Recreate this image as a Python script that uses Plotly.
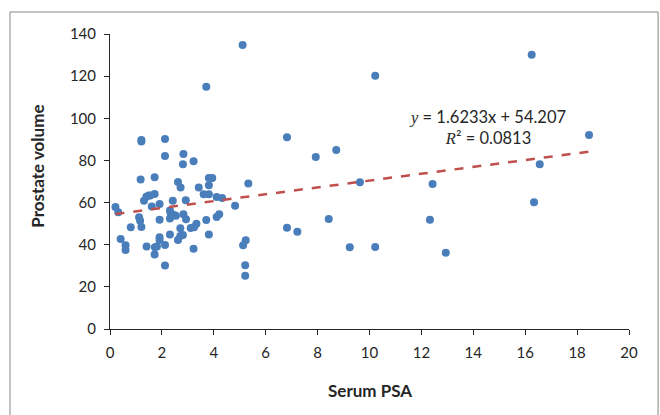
import plotly.graph_objects as go

serum_psa = [5.11, 3.71, 1.21, 1.21, 2.12, 6.82, 2.12, 2.83, 2.81, 3.22,
             1.18, 1.72, 2.62, 2.72, 3.42, 3.81, 3.94, 3.81, 5.33, 1.40,
             1.49, 1.55, 1.72, 1.31, 3.61, 3.81, 4.11, 4.32, 2.42, 2.92,
             0.21, 0.32, 1.61, 1.91, 4.82, 2.31, 2.34, 2.47, 2.54, 2.31,
             2.83, 2.93, 1.12, 1.16, 1.91, 3.71, 4.11, 4.21, 3.33, 3.24,
             3.11, 0.80, 1.21, 2.71, 3.81, 2.31, 2.81, 2.71, 2.62, 1.91,
             1.91, 0.41, 5.23, 5.13, 0.60, 0.60, 1.41, 1.73, 1.81, 2.12,
             3.22, 1.72, 2.12, 5.21, 5.21, 6.82, 7.22,
             16.25, 10.22, 18.46, 7.93, 8.72, 16.56, 9.63, 12.43, 16.34,
             8.43, 12.33, 9.24, 10.22, 12.94]
prostate_volume = [134.8, 115.0, 89.7, 89.0, 90.2, 91.0, 82.1, 83.1, 78.2, 79.6,
                   71.0, 72.0, 69.8, 67.1, 67.1, 71.7, 71.7, 68.2, 69.1, 62.8,
                   63.3, 63.3, 64.1, 60.9, 63.9, 63.9, 62.6, 62.2, 60.9, 61.1,
                   57.9, 55.4, 58.1, 59.3, 58.5, 56.2, 54.9, 54.1, 53.8, 52.5,
                   54.4, 52.1, 53.0, 51.4, 51.9, 51.7, 53.2, 54.4, 50.0, 48.3,
                   47.9, 48.3, 48.4, 47.8, 44.9, 44.8, 44.6, 44.1, 42.2, 43.5,
                   42.2, 42.7, 42.1, 39.7, 39.7, 37.5, 39.2, 38.8, 39.1, 39.9,
                   38.1, 35.3, 30.1, 30.2, 25.3, 48.0, 46.2,
                   130.2, 120.2, 92.1, 81.6, 85.0, 78.2, 69.6, 68.8, 60.1,
                   52.2, 51.9, 38.8, 38.9, 36.2]

slope = 1.6233
intercept = 54.207
r_squared = 0.0813

x_ticks = [0, 2, 4, 6, 8, 10, 12, 14, 16, 18, 20]
y_ticks = [0, 20, 40, 60, 80, 100, 120, 140]

x_min, x_max = min(serum_psa), max(serum_psa)
trend_x = [x_min, x_max]
trend_y = [slope * v + intercept for v in trend_x]

font_family = "Lato, 'Open Sans', sans-serif"

fig = go.Figure()
fig.add_trace(go.Scatter(
    x=serum_psa, y=prostate_volume, mode="markers",
    marker=dict(size=8, color="#4A7EBB", line=dict(width=0)),
    showlegend=False, hoverinfo="x+y"))
fig.add_trace(go.Scatter(
    x=trend_x, y=trend_y, mode="lines",
    line=dict(color="#C0504D", width=2.5, dash="dash"),
    showlegend=False, hoverinfo="skip"))

fig.add_annotation(
    x=14.53, y=95.6, xref="x", yref="y", showarrow=False,
    text=("<span style='font-family:\"Liberation Serif\", serif'><i>y</i></span>"
          f" = {slope}x + {intercept}<br>"
          "<span style='font-family:\"Liberation Serif\", serif'><i>R</i></span>"
          f"² = {r_squared}"),
    font=dict(family=font_family, size=16.5, color="#262626"),
    align="center")

# axis titles (placed as in the reference)
fig.add_annotation(
    x=0.5, y=-0.207, xref="paper", yref="paper", showarrow=False,
    text="<b>Serum PSA</b>", font=dict(family=font_family, size=17, color="#262626"),
    xanchor="center", yanchor="middle")
fig.add_annotation(
    x=-0.139, y=0.553, xref="paper", yref="paper", showarrow=False,
    text="<b>Prostate volume</b>", textangle=-90,
    font=dict(family=font_family, size=17, color="#262626"),
    xanchor="center", yanchor="middle")

fig.add_shape(type="rect", xref="paper", yref="paper",
              x0=-0.1927, x1=1.056, y0=-0.32, y1=1.0746,
              line=dict(color="#868686", width=1), fillcolor="rgba(0,0,0,0)",
              layer="below")

fig.update_layout(
    width=660, height=415,
    margin=dict(l=110, r=31, t=34, b=86),
    paper_bgcolor="white", plot_bgcolor="white",
    font=dict(family=font_family, size=15, color="#262626"),
    xaxis=dict(range=[0, 20], tickvals=x_ticks, showgrid=False, zeroline=False,
               showline=True, linecolor="#262626", linewidth=1,
               ticks="outside", ticklen=5, tickcolor="#262626",
               ticklabelstandoff=5),
    yaxis=dict(range=[0, 140], tickvals=y_ticks, showgrid=False, zeroline=False,
               showline=True, linecolor="#262626", linewidth=1,
               ticks="outside", ticklen=5, tickcolor="#262626",
               ticklabelstandoff=5),
)

fig.write_html("out.html", config={"displayModeBar": False},
               post_script="document.body.style.margin='0';")
